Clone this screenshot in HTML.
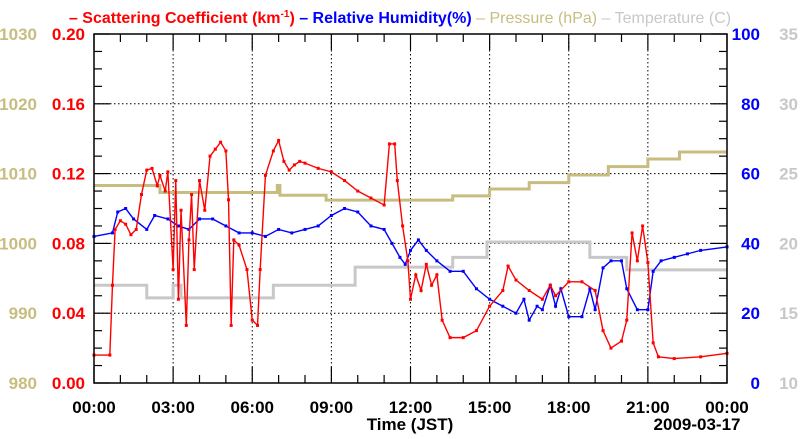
<!DOCTYPE html>
<html><head><meta charset="utf-8"><style>
body{margin:0;background:#fff;}
svg text{font-family:"Liberation Sans",sans-serif;font-weight:bold;}
</style></head><body>
<svg id="chart" width="800" height="434" xmlns="http://www.w3.org/2000/svg"></svg>
<script>
const xTickLabels=["00:00","03:00","06:00","09:00","12:00","15:00","18:00","21:00","00:00"];
const scatTicks=["0.00","0.04","0.08","0.12","0.16","0.20"];
const rhTicks=["0","20","40","60","80","100"];
const presTicks=["980","990","1000","1010","1020","1030"];
const tempTicks=["10","15","20","25","30","35"];
const scatHours=[0,0.6,0.7,0.8,1.0,1.2,1.4,1.6,1.8,2.0,2.2,2.4,2.5,2.7,2.8,3.0,3.1,3.2,3.3,3.5,3.6,3.7,3.8,4.0,4.2,4.4,4.6,4.8,5.0,5.1,5.2,5.3,5.5,5.8,6.0,6.2,6.3,6.5,6.8,7.0,7.2,7.4,7.6,7.8,8.0,8.5,9.0,9.5,10.0,10.5,11.0,11.2,11.4,11.5,11.7,11.9,12.0,12.2,12.4,12.6,12.8,13.0,13.2,13.5,14.0,14.5,15.0,15.5,15.7,16.0,16.5,17.0,17.3,17.5,18.0,18.5,19.0,19.3,19.6,20.0,20.2,20.4,20.6,20.8,21.0,21.2,21.4,22,23,24];
const scatValues=[0.016,0.016,0.056,0.088,0.093,0.091,0.085,0.088,0.108,0.122,0.123,0.113,0.119,0.110,0.121,0.065,0.116,0.048,0.099,0.033,0.082,0.108,0.065,0.116,0.099,0.130,0.134,0.138,0.133,0.105,0.033,0.082,0.079,0.065,0.036,0.033,0.065,0.119,0.133,0.139,0.127,0.122,0.125,0.127,0.126,0.123,0.121,0.116,0.110,0.106,0.102,0.137,0.137,0.116,0.090,0.070,0.048,0.062,0.053,0.068,0.056,0.062,0.036,0.026,0.026,0.030,0.044,0.053,0.067,0.059,0.053,0.048,0.056,0.050,0.058,0.058,0.053,0.030,0.020,0.024,0.036,0.086,0.070,0.090,0.069,0.023,0.015,0.014,0.015,0.017];
const rhHours=[0,0.7,0.9,1.2,1.5,2.0,2.3,2.8,3.2,3.6,4.0,4.5,5.0,5.5,6.0,6.5,7.0,7.5,8.0,8.5,9.0,9.5,10.0,10.5,11.0,11.3,11.6,11.8,12.0,12.3,12.6,13.0,13.5,14.0,14.5,15.0,15.5,16.0,16.3,16.5,16.8,17.0,17.3,17.5,17.7,18.0,18.5,18.8,19.0,19.3,19.6,20.0,20.2,20.6,21.0,21.2,21.5,22.0,22.5,23.0,24];
const rhValues=[42,43,49,50,47,44,48,47,45,44,47,47,45,43,43,42,44,43,44,45,48,50,49,45,44,40,36,34,38,41,38,35,32,32,27,24,22,20,24,18,22,21,28,22,27,19,19,27,21,33,35,35,27,21,21,32,35,36,37,38,39];
const presHours=[0,2.4,2.5,6.85,6.95,7.05,8.8,13.6,15.0,16.5,18.0,19.5,21.0,22.2,24];
const presValues=[1008.3,1008.3,1007.3,1007.3,1008.3,1006.9,1006.2,1006.8,1007.8,1008.7,1009.8,1011.0,1012.1,1013.1,1013.1];
const tempHours=[0,2.0,3.0,3.3,6.8,9.9,13.6,14.9,18.8,20.2,24];
const tempValues=[17.0,16.1,17.0,16.1,17.0,18.3,19.0,20.1,19.0,18.1,18.1];

const svg=document.getElementById('chart');
const NS='http://www.w3.org/2000/svg';
const L=94,R=727,T=34,B=383;
const xS=h=>L+(R-L)*h/24;
const yScat=v=>B-(B-T)*v/0.2;
const yRH=v=>B-(B-T)*v/100;
const yPres=v=>B-(B-T)*(v-980)/50;
const yTemp=v=>B-(B-T)*(v-10)/25;
function mk(tag,attrs,parent){const e=document.createElementNS(NS,tag);for(const k in attrs)e.setAttribute(k,attrs[k]);(parent||svg).appendChild(e);return e;}
function txt(x,y,s,fill,anchor,size){const t=mk('text',{x:x,y:y,fill:fill,'text-anchor':anchor,'font-size':size||15});t.textContent=s;return t;}

const grid=mk('g',{});


for(let i=1;i<8;i++){mk('line',{x1:xS(i*3),x2:xS(i*3),y1:T,y2:B,stroke:'#000','stroke-dasharray':'1.5,2.5','stroke-width':1},grid);}
for(let i=1;i<5;i++){const y=yScat(i*0.04);mk('line',{x1:L,x2:R,y1:y,y2:y,stroke:'#000','stroke-dasharray':'1.5,2.5','stroke-width':1},grid);}

function series(hours,vals,yf,color,name,step,dots){
  const g=mk('g',{});
  
  
  let d='';
  hours.forEach((h,i)=>{const x=xS(h),y=yf(vals[i]);
    if(i===0)d+='M'+x+','+y;else{ if(step){d+='L'+x+','+yf(vals[i-1]);} d+='L'+x+','+y;}});
  mk('path',{d:d,fill:'none',stroke:color,'stroke-width':step?3:1.4},g);
  if(dots)hours.forEach((h,i)=>mk('rect',{x:xS(h)-1.5,y:yf(vals[i])-1.5,width:3,height:3,fill:color},g));
}
series(tempHours,tempValues,yTemp,'#c8c8c8','temperature-line',true,false);
series(presHours,presValues,yPres,'#c8bd80','pressure-line',true,false);
series(rhHours,rhValues,yRH,'#0000ff','humidity-line',false,true);
series(scatHours,scatValues,yScat,'#ff0000','scattering-line',false,true);

const fr=mk('rect',{x:L,y:T,width:R-L,height:B-T,fill:'none',stroke:'#000','stroke-width':1.5});


const tk=mk('g',{stroke:'#000','stroke-width':1.2});


for(let i=0;i<=20;i++){const y=yScat(i*0.01),len=i%4===0?16:8;mk('line',{x1:L,x2:L+len,y1:y,y2:y},tk);mk('line',{x1:R,x2:R-len,y1:y,y2:y},tk);}
for(let h=0;h<=24;h++){const x=xS(h),len=h%3===0?16:8;mk('line',{x1:x,x2:x,y1:B,y2:B-len},tk);mk('line',{x1:x,x2:x,y1:T,y2:T+len},tk);}

xTickLabels.forEach((s,i)=>{const t=txt(xS(i*3),413,s,'#000','middle',17);});
scatTicks.forEach((s,i)=>{const t=txt(85,yScat(i*0.04)+6,s,'#ff0000','end',17);});
presTicks.forEach((s,i)=>{const t=txt(37,yPres(980+i*10)+6,s,'#c8bd80','end',17);t.setAttribute('font-weight','normal');});
rhTicks.forEach((s,i)=>{const t=txt(760,yRH(i*20)+6,s,'#0000ff','end',17);});
tempTicks.forEach((s,i)=>{const t=txt(798,yTemp(10+i*5)+6,s,'#c8c8c8','end',17);t.setAttribute('font-weight','normal');});
const xt=txt(410,430,'Time (JST)','#000','middle',17);


const dt=txt(697,430,'2009-03-17','#000','middle',17);



const lg=mk('text',{x:400,y:23,'text-anchor':'middle','font-size':16});


lg.innerHTML='<tspan fill="#ff0000">– Scattering Coefficient (km<tspan font-size="10" dy="-6">-1</tspan><tspan dy="6">)</tspan></tspan><tspan fill="#0000ff"> – Relative Humidity(%)</tspan><tspan fill="#c8bd80" font-weight="normal"> – Pressure (hPa)</tspan><tspan fill="#c8c8c8" font-weight="normal"> – Temperature (C)</tspan>';
</script>
</body></html>
